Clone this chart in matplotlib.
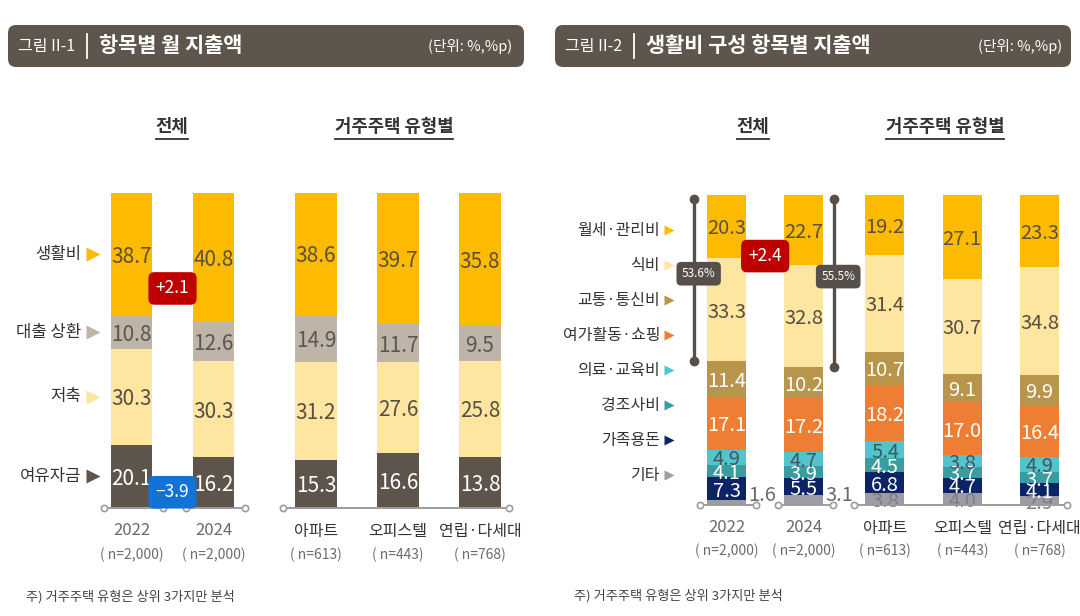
import matplotlib
matplotlib.use('Agg')
import matplotlib.pyplot as plt
from matplotlib.patches import FancyBboxPatch

plt.rcParams['font.family'] = ['Noto Sans CJK KR', 'DejaVu Sans']

# ---------------- data ----------------
groups = ['2022', '2024', '아파트', '오피스텔', '연립·다세대']
n_labels = ['( n=2,000)', '( n=2,000)', '( n=613)', '( n=443)', '( n=768)']

# Figure II-1 : stacked bottom -> top (drawn as 100% stacked bars, labelled with the published values)
fig1_cats = ['여유자금', '저축', '대출 상환', '생활비']
spare = [20.1, 16.2, 15.3, 16.6, 13.8]
saving = [30.3, 30.3, 31.2, 27.6, 25.8]
loan = [10.8, 12.6, 14.9, 11.7, 9.5]
living = [38.7, 40.8, 38.6, 39.7, 35.8]

# Figure II-2 : stacked bottom -> top
fig2_cats = ['기타', '가족용돈', '경조사비', '의료·교육비', '여가활동·쇼핑', '교통·통신비', '식비', '월세·관리비']
other = [1.6, 3.1, 3.8, 4.0, 2.9]
family = [7.3, 5.5, 6.8, 4.7, 4.1]
events = [4.1, 3.9, 4.5, 3.7, 3.7]
medical = [4.9, 4.7, 5.4, 3.8, 4.9]
leisure = [17.1, 17.2, 18.2, 17.0, 16.4]
transport = [11.4, 10.2, 10.7, 9.1, 9.9]
food = [33.3, 32.8, 31.4, 30.7, 34.8]
rent = [20.3, 22.7, 19.2, 27.1, 23.3]

# ---------------- style ----------------
GOLD, LIGHT, TAUPE, DARK = '#FDBB00', '#FEE5A0', '#BEB4A8', '#5D554B'
TAN, ORANGE, LTEAL, TEAL, NAVY, GRAY = '#B9944B', '#EE7E34', '#52C4CD', '#399DA0', '#0C2466', '#9C9BA6'
TXT_GOLD, TXT_LIGHT, TXT_TAUPE = '#5e4f3a', '#574e44', '#5b5651'
HEADER = '#5E564C'

W, H = 1080, 616
fig = plt.figure(figsize=(W / 100, H / 100), dpi=100)
fig.patch.set_facecolor('white')

deco = fig.add_axes([0, 0, 1, 1])
deco.set_xlim(0, W)
deco.set_ylim(H, 0)
deco.axis('off')


def panel_axes(x0, ux, y0, uy):
    ax = fig.add_axes([0, 0, 1, 1])
    ax.set_xlim(-x0 / ux, (W - x0) / ux)
    ax.set_ylim(-(H - y0) / uy, y0 / uy)
    ax.axis('off')
    ax.patch.set_alpha(0)
    return ax


ax1 = panel_axes(131.5, 82.0, 508, 3.15)
ax2 = panel_axes(726.5, 77.3, 505, 3.10)
pos1 = [0, 1, 2.25, 3.25, 4.25]
pos2 = [0, 1, 2.05, 3.05, 4.05]
w1, w2 = 0.51, 0.505


def stacked(ax, pos, width, series, colors, tcolors, fs, outside_last_small=False):
    totals = [sum(col) for col in zip(*series)]
    bottoms = [0.0] * len(pos)
    mids = []
    for si, (vals, c, tc) in enumerate(zip(series, colors, tcolors)):
        hts = [v / t * 100 for v, t in zip(vals, totals)]
        ax.bar(pos, hts, width, bottom=bottoms, color=c, edgecolor='none', zorder=2)
        mids.append([b + h / 2 for b, h in zip(bottoms, hts)])
        for j, (x, v, h, b) in enumerate(zip(pos, vals, hts, bottoms)):
            if outside_last_small and si == 0 and j < 2:
                ax.text(x + width / 2 + 0.03, b + 4.0, f'{v:.1f}', ha='left', va='center_baseline',
                        fontsize=fs, color='#6a6a6a', zorder=6)
            else:
                ax.text(x, b + h / 2, f'{v:.1f}', ha='center', va='center_baseline',
                        fontsize=fs, color=tc, zorder=6)
        bottoms = [b + h for b, h in zip(bottoms, hts)]
    return mids, bottoms, totals


def baselines(ax, pos):
    segs = [(pos[0] - 0.34, pos[0] + 0.38), (pos[1] - 0.34, pos[1] + 0.38), (pos[2] - 0.4, pos[4] + 0.35)]
    for a, b in segs:
        ax.plot([a, b], [0, 0], color='#9c9c9c', lw=1.4, marker='o', ms=4.5,
                mfc='white', mec='#9c9c9c', mew=1.2, zorder=7, solid_capstyle='butt')


def xlabels(ax, pos, fs_type):
    for j, (x, g, n) in enumerate(zip(pos, groups, n_labels)):
        if j < 2:
            ax.text(x, -7.2, g, ha='center', va='center', fontsize=12, color='#6b6b6b')
        else:
            ax.text(x, -7.6, g, ha='center', va='center', fontsize=fs_type, color='#333333')
        ax.text(x, -14.8, n, ha='center', va='center', fontsize=10, color='#6b6b6b')


def badge(ax, x, y, txt, fc, fs=12.5, pad=0.42):
    ax.text(x, y, txt, ha='center', va='center', fontsize=fs, color='white', zorder=9,
            bbox=dict(boxstyle=f'round,pad={pad},rounding_size=0.35', fc=fc, ec='none'))


# ---------- Figure II-1 ----------
s1 = [spare, saving, loan, living]
c1 = [DARK, LIGHT, TAUPE, GOLD]
t1 = ['white', TXT_LIGHT, TXT_TAUPE, TXT_GOLD]
mids1, tops1, tot1 = stacked(ax1, pos1, w1, s1, c1, t1, 15)
baselines(ax1, pos1)
xlabels(ax1, pos1, 11.5)
for cat, col, m in zip(fig1_cats, c1, mids1):
    ax1.text(-0.61, m[0], cat, ha='right', va='center', fontsize=12, color='#333333')
    ax1.plot([-0.465], [m[0]], marker='>', ms=10, color=col, mec='none', zorder=6)

d_living = living[1] - living[0]
d_spare = spare[1] - spare[0]
badge(ax1, 0.5, 69.7, f'{d_living:+.1f}', '#C00000')
badge(ax1, 0.5, 5.0, f'{d_spare:+.1f}'.replace('-', '−'), '#1272D6')

# ---------- Figure II-2 ----------
s2 = [other, family, events, medical, leisure, transport, food, rent]
c2 = [GRAY, NAVY, TEAL, LTEAL, ORANGE, TAN, LIGHT, GOLD]
t2 = ['#7e7e8a', 'white', 'white', '#3f5860', 'white', 'white', TXT_LIGHT, TXT_GOLD]
mids2, tops2, tot2 = stacked(ax2, pos2, w2, s2, c2, t2, 14.5, outside_last_small=True)
baselines(ax2, pos2)
xlabels(ax2, pos2, 11.5)
for i, (cat, col) in enumerate(zip(fig2_cats[::-1], c2[::-1])):
    y = 88.7 - 11.3 * i
    ax2.text(-0.86, y, cat, ha='right', va='center', fontsize=11.5, color='#333333')
    ax2.plot([-0.745], [y], marker='>', ms=7.5, color=col, mec='none', zorder=6)

d_rent = rent[1] - rent[0]
badge(ax2, 0.5, 80.3, f'{d_rent:+.1f}', '#C00000')

for j, bx in [(0, -0.42), (1, 1.385)]:
    share = rent[j] + food[j]
    top, bot = tops2[j] - 1.2, tops2[j] - share / tot2[j] * 100
    ax2.plot([bx, bx], [top, bot], color='#57504a', lw=2.4, marker='o', ms=6, zorder=7)
    ax2.text(bx + 0.06, (top + bot) / 2 + 2, f'{share:.1f}%', ha='center', va='center', fontsize=8.5,
             color='white', zorder=9,
             bbox=dict(boxstyle='round,pad=0.45,rounding_size=0.4', fc='#57504a', ec='none'))

# ---------- headers ----------
for (x0, x1, num, title, unit_x) in [(8, 524, '그림 II-1', '항목별 월 지출액', 512),
                                     (555, 1071, '그림 II-2', '생활비 구성 항목별 지출액', 1062)]:
    deco.add_patch(FancyBboxPatch((x0, 25), x1 - x0, 42, boxstyle='round,pad=0,rounding_size=8',
                                  fc=HEADER, ec='none'))
    deco.text(x0 + 10, 46, num, ha='left', va='center', fontsize=11.5, color='white')
    deco.plot([x0 + 79, x0 + 79], [34, 58], color='white', lw=1.3)
    deco.text(x0 + 91, 45, title, ha='left', va='center', fontsize=15, fontweight='bold', color='white')
    deco.text(unit_x, 46, '(단위: %,%p)', ha='right', va='center', fontsize=10.5, color='white')

sec = []
for x, t in [(172, '전체'), (394, '거주주택 유형별'), (753, '전체'), (945, '거주주택 유형별')]:
    sec.append(deco.text(x, 127, t, ha='center', va='center', fontsize=12.8, fontweight='bold', color='#333333'))

deco.text(26, 597, '주) 거주주택 유형은 상위 3가지만 분석', ha='left', va='center', fontsize=9.5, color='#444444')
deco.text(574, 596, '주) 거주주택 유형은 상위 3가지만 분석', ha='left', va='center', fontsize=9.5, color='#444444')

fig.canvas.draw()
r = fig.canvas.get_renderer()
for t in sec:
    bb = t.get_window_extent(r)
    deco.plot([bb.x0, bb.x1], [138.5, 138.5], color='#333333', lw=1.3)

fig.savefig('out.png', dpi=100)
